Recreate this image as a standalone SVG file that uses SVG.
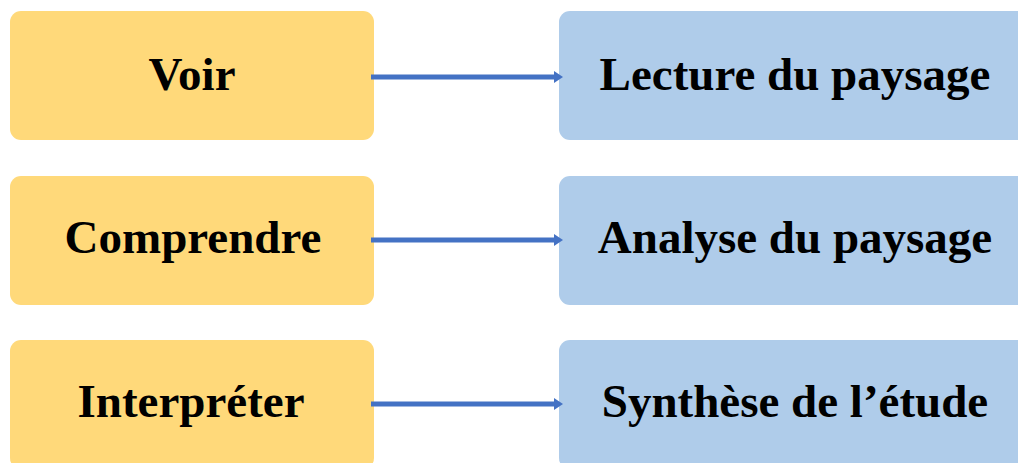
<svg xmlns="http://www.w3.org/2000/svg" width="1018" height="463" viewBox="0 0 1018 463">
<style>
.y{fill:#FFD97A}
.b{fill:#AFCCEA}
.t{font-family:"Liberation Serif","Times New Roman",serif;font-weight:bold;font-size:47px;fill:#000;text-anchor:middle}
.c{stroke:#4472C4;stroke-width:5;fill:none}
</style>
<defs>
<marker id="ah" markerUnits="userSpaceOnUse" markerWidth="12" markerHeight="14" refX="2" refY="7" orient="auto">
<path d="M0,1 L9,7 L0,13 Z" fill="#4472C4"/>
</marker>
</defs>
<rect width="1018" height="463" fill="#fff"/>
<g id="n1"><rect class="y" x="10" y="11" width="364" height="129" rx="11"/><text class="t" x="192" y="90">Voir</text></g>
<g id="n2"><rect class="y" x="10" y="176" width="364" height="129" rx="11"/><text class="t" x="193" y="253">Comprendre</text></g>
<g id="n3"><rect class="y" x="10" y="340" width="364" height="129" rx="11"/><text class="t" x="191" y="417">Interpréter</text></g>
<g id="n4"><rect class="b" x="559" y="11" width="480" height="129" rx="11"/><text class="t" x="795" y="90">Lecture du paysage</text></g>
<g id="n5"><rect class="b" x="559" y="176" width="480" height="129" rx="11"/><text class="t" x="795" y="253">Analyse du paysage</text></g>
<g id="n6"><rect class="b" x="559" y="340" width="480" height="129" rx="11"/><text class="t" x="795" y="417">Synthèse de l’étude</text></g>
<g id="connectors">
<line class="c" x1="371" y1="77" x2="556" y2="77" marker-end="url(#ah)"/>
<line class="c" x1="371" y1="240" x2="556" y2="240" marker-end="url(#ah)"/>
<line class="c" x1="371" y1="404" x2="556" y2="404" marker-end="url(#ah)"/>
</g>
</svg>
